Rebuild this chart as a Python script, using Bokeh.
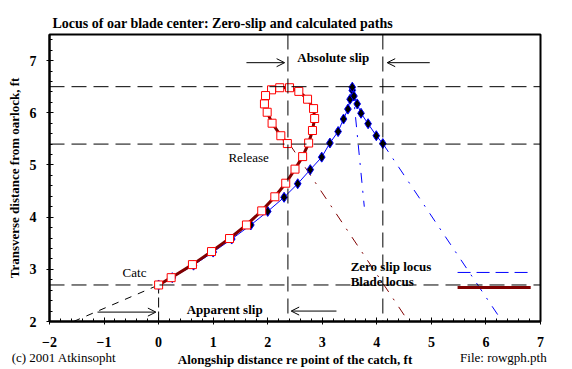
import math
from bokeh.plotting import figure
from bokeh.models import (Range1d, SingleIntervalTicker, FixedTicker, LinearAxis, Label, Arrow,
                          OpenHead, Span)
from bokeh.embed import file_html
from bokeh.resources import INLINE

# ---- data ----
blade_x = [0.0, 0.23, 0.62, 0.97, 1.30, 1.61, 1.89, 2.13, 2.33, 2.50, 2.64, 2.75, 2.82, 2.86,
           2.84, 2.73, 2.57, 2.40, 2.22, 2.07, 1.96, 1.94, 1.99, 2.08, 2.24, 2.36]
blade_y = [2.70, 2.84, 3.09, 3.34, 3.59, 3.85, 4.12, 4.39, 4.65, 4.92, 5.16, 5.42, 5.66, 5.89,
           6.08, 6.26, 6.41, 6.48, 6.48, 6.44, 6.33, 6.17, 6.01, 5.80, 5.56, 5.41]

zero_x = [0.0, 0.25, 0.64, 1.00, 1.34, 1.69, 2.00, 2.30, 2.55, 2.78, 2.99, 3.14, 3.29, 3.39,
          3.47, 3.51, 3.55, 3.55, 3.58, 3.64, 3.71, 3.84, 3.99, 4.11]
zero_y = [2.70, 2.84, 3.08, 3.33, 3.58, 3.85, 4.11, 4.38, 4.64, 4.91, 5.15, 5.42, 5.64, 5.88,
          6.07, 6.26, 6.43, 6.49, 6.32, 6.17, 5.99, 5.79, 5.56, 5.41]

# projection lines
zero_ext1_x = [4.11, 6.30]
zero_ext1_y = [5.41, 2.00]
zero_ext2_x = [3.56, 3.77]
zero_ext2_y = [6.45, 4.20]
blade_ext_x = [2.40, 4.58]
blade_ext_y = [5.40, 2.00]
catch_ext_x = [-1.56, 0.0]
catch_ext_y = [2.00, 2.70]

h_levels = [6.5, 5.4, 2.7]        # horizontal reference levels
v_levels = [2.37, 4.11]           # vertical reference positions
catch_x = [0.0, 0.0]
catch_y = [2.0, 2.7]

TITLE = "Locus of oar blade center: Zero-slip and calculated paths"
X_LABEL = "Alongship distance re point of the catch, ft"
Y_LABEL = "Transverse distance from oarlock, ft"
FOOTER_LEFT = "(c) 2001 Atkinsopht"
FOOTER_RIGHT = "File: rowgph.pth"

SERIF = "Liberation Serif"

p = figure(width=572, height=369, output_backend="svg", toolbar_location=None,
           x_range=Range1d(-2, 7), y_range=Range1d(2, 7.5),
           min_border_left=49, min_border_right=32, min_border_top=34, min_border_bottom=46)
p.grid.visible = False
p.outline_line_color = "black"
p.outline_line_width = 2
p.background_fill_color = "white"
p.border_fill_color = "white"

p.title.text = TITLE
p.title.text_font = SERIF
p.title.text_font_style = "bold"
p.title.text_font_size = "14px"
p.title.text_color = "black"
p.title.align = "left"
p.title.offset = 3
p.title.standoff = 8

for ax in (p.xaxis[0], p.yaxis[0]):
    ax.ticker = SingleIntervalTicker(interval=1, num_minor_ticks=5)
    ax.axis_line_width = 2
    ax.major_tick_in = 4
    ax.major_tick_out = 3
    ax.minor_tick_in = 3
    ax.minor_tick_out = 0
    ax.major_label_text_font = SERIF
    ax.major_label_text_font_style = "bold"
    ax.major_label_text_font_size = "14px"
    ax.major_label_text_color = "black"
    ax.axis_line_color = "black"
    ax.major_tick_line_color = "black"
    ax.minor_tick_line_color = "black"
p.xaxis.major_label_standoff = 12
p.yaxis.major_label_standoff = 10
p.yaxis.axis_label = Y_LABEL
p.yaxis.axis_label_text_font = SERIF
p.yaxis.axis_label_text_font_style = "bold"
p.yaxis.axis_label_text_font_size = "13px"
p.yaxis.axis_label_text_color = "black"
p.yaxis.axis_label_standoff = 5

# footer row: copyright, axis title and file name on one line
foot_ticks = [-1.734, 6.32]
footer = LinearAxis(ticker=FixedTicker(ticks=foot_ticks),
                    major_label_overrides={foot_ticks[0]: FOOTER_LEFT, foot_ticks[1]: FOOTER_RIGHT},
                    axis_line_color=None, major_tick_line_color=None, minor_tick_line_color=None,
                    major_tick_in=0, major_tick_out=0, major_label_standoff=0,
                    major_label_text_font=SERIF, major_label_text_font_size="13px",
                    major_label_text_color="black",
                    axis_label=X_LABEL, axis_label_text_font=SERIF,
                    axis_label_text_font_style="bold", axis_label_text_font_size="13px",
                    axis_label_text_color="black",
                    axis_label_standoff=-16)
p.add_layout(footer, "below")

dash = "15 7"
for lv in h_levels:
    p.add_layout(Span(location=lv, dimension="width", line_color="black",
                      line_width=1, line_dash=dash))
for lv in v_levels:
    p.add_layout(Span(location=lv, dimension="height", line_color="black",
                      line_width=1, line_dash=dash))
p.line(catch_x, catch_y, line_color="black", line_width=1, line_dash="10 4")
p.line(catch_ext_x, catch_ext_y, line_color="black", line_width=1, line_dash="7 7")

# projection dash-dot lines
p.line(zero_ext1_x, zero_ext1_y, line_color="blue", line_width=1, line_dash="10 8 2 8")
p.line(zero_ext2_x, zero_ext2_y, line_color="blue", line_width=1, line_dash="10 8 2 8")
p.line(blade_ext_x, blade_ext_y, line_color="#800000", line_width=1, line_dash="10 8 2 8")

# zero slip locus
p.line(zero_x, zero_y, line_color="blue", line_width=1)
p.scatter(zero_x, zero_y, marker="diamond", size=10, fill_color="black", line_color="blue",
          line_width=1)

# blade locus
p.line(blade_x, blade_y, line_color="#800000", line_width=3)
p.scatter(blade_x, blade_y, marker="square", size=8, fill_color="white", line_color="red",
          line_width=1)


def lab(x, y, text, size="13px", style="normal", align="left"):
    p.add_layout(Label(x=x, y=y, text=text, text_font=SERIF, text_font_size=size,
                       text_font_style=style, text_align=align, text_baseline="middle",
                       text_color="black"))


lab(1.28, 5.14, "Release")
lab(-0.66, 2.93, "Catc")
lab(3.20, 7.05, "Absolute slip", style="bold", align="center")
lab(1.21, 2.23, "Apparent slip", style="bold", align="center")
lab(3.52, 3.05, "Zero slip locus", style="bold")
lab(3.52, 2.76, "Blade locus", style="bold")

# legend sample lines
p.line([5.48, 6.78], [2.94, 2.94], line_color="blue", line_width=1, line_dash="13 6")
p.line([5.48, 6.82], [2.65, 2.65], line_color="#800000", line_width=3)

# slip arrows
for xs, xe, y in ((1.61, 2.31, 6.96), (4.97, 4.19, 6.96), (-1.12, -0.05, 2.18), (3.26, 2.43, 2.20)):
    p.add_layout(Arrow(x_start=xs, y_start=y, x_end=xe, y_end=y, line_color="black",
                       line_width=1, end=OpenHead(size=8, line_width=1, line_color="black")))

open("out.html", "w").write(file_html(p, INLINE))
